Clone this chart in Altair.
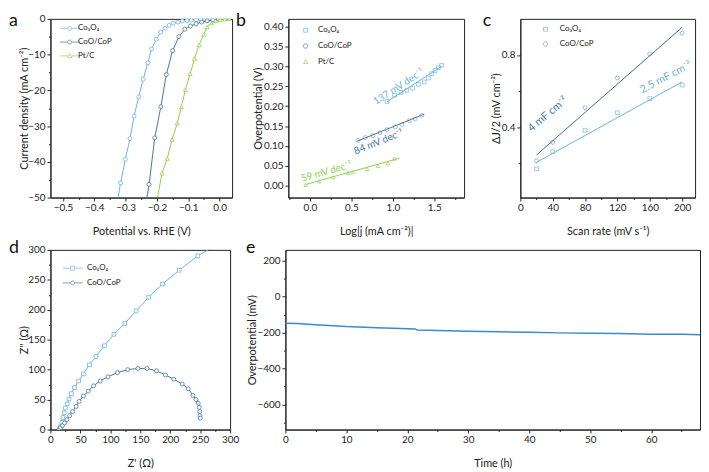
import altair as alt
import pandas as pd

FONT = "Lato"
C1 = "#6db3e2"   # Co3O4
C2 = "#4a76a0"   # CoO/CoP
C3 = "#8fd04c"   # Pt/C
CE = "#3a8bcd"

NAMES3 = ["Co₃O₄", "CoO/CoP", "Pt/C"]
NAMES2 = ["Co₃O₄", "CoO/CoP"]

# ---------------- panel a : polarization curves
a_co3o4_v = [-0.324, -0.316, -0.301, -0.286, -0.273, -0.258, -0.244, -0.229, -0.217, -0.202, -0.188,
             -0.174, -0.161, -0.148, -0.133, -0.119, -0.104, -0.090, -0.075, -0.060, -0.046, -0.031,
             -0.017, -0.002]
a_co3o4_j = [-50, -45.9, -39.3, -33.5, -27.2, -21.8, -16.9, -12.3, -8.4, -5.7, -3.7,
             -2.6, -1.8, -1.2, -0.9, -0.6, -0.5, -0.4, -0.3, -0.2, -0.15, -0.1, -0.05, 0.0]
a_cop_v = [-0.232, -0.225, -0.207, -0.1875, -0.170, -0.150, -0.130, -0.111, -0.093, -0.075,
           -0.057, -0.040, -0.021, -0.003]
a_cop_j = [-50, -46.3, -33.3, -24.6, -15.6, -8.9, -5.0, -2.9, -2.0, -1.4, -0.9, -0.55, -0.3, -0.05]
a_ptc_v = [-0.198, -0.184, -0.167, -0.152, -0.135, -0.122, -0.109, -0.094, -0.080, -0.065, -0.051,
           -0.040, -0.026, -0.0125, 0.002, 0.017, 0.031]
a_ptc_j = [-50, -43.2, -39.1, -33.8, -29.2, -24.6, -19.8, -15.4, -11.1, -7.3, -4.4,
           -2.3, -1.2, -0.55, -0.2, -0.1, 0.0]

# ---------------- panel b : Tafel
b_co3o4_x = [0.93, 1.02, 1.10, 1.17, 1.24, 1.31, 1.38, 1.43, 1.47, 1.51, 1.55, 1.59]
b_co3o4_y = [0.212, 0.228, 0.235, 0.240, 0.246, 0.255, 0.261, 0.271, 0.282, 0.290, 0.297, 0.303]
b_cop_x = [0.58, 0.67, 0.76, 0.845, 0.93, 1.03, 1.11, 1.20, 1.27, 1.35]
b_cop_y = [0.114, 0.121, 0.126, 0.133, 0.141, 0.148, 0.154, 0.164, 0.168, 0.177]
b_ptc_x = [-0.05, 0.11, 0.28, 0.46, 0.52, 0.69, 0.82, 0.94, 1.02]
b_ptc_y = [0.002, 0.011, 0.021, 0.032, 0.034, 0.042, 0.050, 0.056, 0.068]
b_fit_co3o4_x, b_fit_co3o4_y = [0.93, 1.59], [0.211, 0.301]
b_fit_cop_x, b_fit_cop_y = [0.57, 1.38], [0.112, 0.180]
b_fit_ptc_x, b_fit_ptc_y = [-0.05, 1.08], [0.003, 0.069]
b_note_text = ["137 mV dec⁻¹", "84 mV dec⁻¹", "59 mV dec⁻¹"]
b_note_x = [1.07, 0.83, 0.20]
b_note_y = [0.249, 0.110, 0.035]
b_note_angle = [327, 338, 344]
b_note_color = [C1, C2, C3]

# ---------------- panel c : double-layer capacitance
c_rate = [20, 40, 80, 120, 160, 200]
c_co3o4 = [0.169, 0.264, 0.383, 0.480, 0.558, 0.633]
c_cop = [0.214, 0.316, 0.508, 0.673, 0.806, 0.921]
c_fit_x = [20, 200]
c_fit_co3o4 = [0.205, 0.651]
c_fit_cop = [0.246, 0.953]
c_note_text = ["4 mF cm⁻²", "2.5 mF cm⁻²"]
c_note_x = [34, 180]
c_note_y = [0.47, 0.675]
c_note_angle = [320, 332]
c_note_color = [C2, C1]

# ---------------- panel d : Nyquist
d_co3o4_x = [15, 17, 19, 21, 23, 25, 28, 31, 35, 40, 47, 55, 65, 76, 90, 106, 124, 143, 164, 187, 215,
             246, 270]
d_co3o4_y = [0, 5, 12, 20, 28, 36, 43, 51, 60, 70, 81, 93, 108, 122, 140, 159, 177, 198, 221, 243, 266,
             290, 304]
d_cop_x = [14, 16.5, 20, 23.6, 27.5, 32, 37, 43, 48, 55, 63, 72, 83, 96, 112, 129, 146, 161, 177, 192,
           206, 220, 230, 238, 243, 246.7, 248.4, 249.2, 249.7, 250.2]
d_cop_y = [0, 3, 6.6, 11, 16.5, 23, 30, 38.5, 47, 56, 64, 73, 81, 88, 95, 100, 102, 102, 98, 91,
           84, 76, 68, 57, 50, 44, 37, 30, 23, 19]

# ---------------- panel e : stability
e_time = [0, 2, 5, 10, 15, 21.3, 21.6, 25, 30, 35, 40, 45, 50, 55, 60, 65, 68]
e_eta = [-148, -150, -157, -167, -173, -180, -186, -189, -193, -196, -199, -202, -204, -206, -209, -210, -212]

# legend symbol paths (unit = 5 px at symbolSize 100)
P_LINE_CIRCLE = "M-1,0L0.6,0M1.4,0L3,0M1.4,0A0.4,0.4,0,1,1,0.6,0A0.4,0.4,0,1,1,1.4,0"
P_LINE_TRI = "M-1,0L0.6,0M1.4,0L3,0M1,-0.45L1.45,0.35L0.55,0.35Z"
P_LINE_SQUARE = "M-1,0L0.6,0M1.4,0L3,0M0.6,-0.4L1.4,-0.4L1.4,0.4L0.6,0.4Z"
P_SQUARE = "M-0.4,-0.4L0.4,-0.4L0.4,0.4L-0.4,0.4Z"
P_CIRCLE = "M0.45,0A0.45,0.45,0,1,1,-0.45,0A0.45,0.45,0,1,1,0.45,0"
P_TRI = "M0,-0.45L0.45,0.35L-0.45,0.35Z"


def df(xs, ys):
    return pd.DataFrame({"x": xs, "y": ys, "i": list(range(len(xs)))})


def axis(title, majors, minors, step, fmt, title_pad, label_pad=2, **kw):
    test = f"abs(datum.value / {step} - round(datum.value / {step})) < 0.000001"
    return alt.Axis(title=title, values=sorted(majors + minors), format=fmt,
                    labelExpr=f"({test}) ? datum.label : ''",
                    tickSize={"condition": {"test": test, "value": 3.5}, "value": 2},
                    labelOverlap=False, labelFlush=False, grid=False,
                    titlePadding=title_pad, labelPadding=label_pad, **kw)


def xaxis(title, majors, minors, step, fmt):
    return axis(title, majors, minors, step, fmt, 13, 2)


def yaxis(title, majors, minors, step, fmt, tp=0):
    return axis(title, majors, minors, step, fmt, tp, 2)


def line_markers(d, X, Y, color, shape, size=16, sw=1.0, marker_filter=None):
    base = alt.Chart(d)
    ln = base.mark_line(color=color, strokeWidth=sw, clip=True).encode(x=X, y=Y, order="i:Q")
    pb = base
    if marker_filter:
        pb = pb.transform_filter(marker_filter)
    pts = pb.mark_point(shape=shape, size=size, filled=True, fill="white", stroke=color,
                        strokeWidth=0.8, opacity=1, clip=True).encode(x=X, y=Y)
    return [ln, pts]


def markers(d, X, Y, color, shape, size=16, opacity=0.85):
    return alt.Chart(d).mark_point(shape=shape, size=size, filled=False, color=color,
                                   strokeWidth=0.8, opacity=opacity, clip=True).encode(x=X, y=Y)


def fit(xs, ys, X, Y, color, sw=1.0):
    return alt.Chart(df(xs, ys)).mark_line(color=color, strokeWidth=sw, clip=True).encode(x=X, y=Y)


def notes(texts, xs, ys, angles, colors, X, Y, size=10):
    layers = []
    for t, x, y, a, c in zip(texts, xs, ys, angles, colors):
        layers.append(alt.Chart(pd.DataFrame({"x": [x], "y": [y], "t": [t]})).mark_text(
            angle=a, color=c, fontSize=size, font=FONT).encode(x=X, y=Y, text="t:N"))
    return layers


def legend(names, colors, paths, lx, ly, row_pad, label_offset, fsize=8):
    lg = alt.Legend(orient="none", legendX=lx, legendY=ly, title=None, labelFont=FONT,
                    labelFontSize=fsize, labelColor="#222", symbolSize=100, symbolStrokeWidth=1,
                    rowPadding=row_pad, labelOffset=label_offset, padding=0, symbolOffset=0)
    return alt.Chart(pd.DataFrame({"s": names})).transform_filter("false").mark_point(
        filled=False, strokeWidth=1).encode(
        color=alt.Color("s:N", scale=alt.Scale(domain=names, range=colors), legend=lg),
        shape=alt.Shape("s:N", scale=alt.Scale(domain=names, range=paths), legend=lg))


def letter(t, x, y):
    return alt.Chart(pd.DataFrame({"t": [t]})).mark_text(
        align="left", baseline="top", fontSize=18, font=FONT, color="#111").encode(
        x=alt.value(x), y=alt.value(y), text="t:N")


# ================= panel a
Xa = alt.X("x:Q", scale=alt.Scale(domain=[-0.54, 0.04], nice=False, zero=False),
           axis=xaxis("Potential vs. RHE (V)", [-0.5, -0.4, -0.3, -0.2, -0.1, 0.0],
                      [-0.45, -0.35, -0.25, -0.15, -0.05], 0.1, ".1f"))
Ya = alt.Y("y:Q", scale=alt.Scale(domain=[-50, 0], nice=False, zero=False),
           axis=yaxis("Current density (mA cm⁻²)", [-50, -40, -30, -20, -10, 0],
                      [-45, -35, -25, -15, -5], 10, "d", -2))
layers_a = []
layers_a += line_markers(df(a_co3o4_v, a_co3o4_j), Xa, Ya, C1, "circle", marker_filter="datum.y > -49")
layers_a += line_markers(df(a_cop_v, a_cop_j), Xa, Ya, C2, "circle", marker_filter="datum.y > -49")
layers_a += line_markers(df(a_ptc_v, a_ptc_j), Xa, Ya, C3, "triangle-up", marker_filter="datum.y > -49")
layers_a.append(legend(NAMES3, [C1, C2, C3], [P_LINE_CIRCLE, P_LINE_CIRCLE, P_LINE_TRI], 9, 4, 4, 8))
layers_a.append(letter("a", -42, -7))
panel_a = alt.layer(*layers_a).properties(width=184, height=181)

# ================= panel b
Xb = alt.X("x:Q", scale=alt.Scale(domain=[-0.26, 1.86], nice=False, zero=False),
           axis=xaxis("Log|j (mA cm⁻²)|", [0.0, 0.5, 1.0, 1.5], [-0.25, 0.25, 0.75, 1.25, 1.75], 0.5, ".1f"))
Yb = alt.Y("y:Q", scale=alt.Scale(domain=[-0.03, 0.42], nice=False, zero=False),
           axis=yaxis("Overpotential (V)", [0.0, 0.05, 0.10, 0.15, 0.20, 0.25, 0.30, 0.35, 0.40], [],
                      0.05, ".2f", 0))
layers_b = [
    markers(df(b_co3o4_x, b_co3o4_y), Xb, Yb, C1, "square", 14),
    markers(df(b_cop_x, b_cop_y), Xb, Yb, C2, "circle", 16, 0.6),
    markers(df(b_ptc_x, b_ptc_y), Xb, Yb, C3, "triangle-up", 14),
    fit(b_fit_co3o4_x, b_fit_co3o4_y, Xb, Yb, C1),
    fit(b_fit_cop_x, b_fit_cop_y, Xb, Yb, C2),
    fit(b_fit_ptc_x, b_fit_ptc_y, Xb, Yb, C3),
]
layers_b += notes(b_note_text, b_note_x, b_note_y, b_note_angle, b_note_color, Xb, Yb, 10)
layers_b.append(legend(NAMES3, [C1, C2, C3], [P_SQUARE, P_CIRCLE, P_TRI], 12, 6, 6, 7))
layers_b.append(letter("b", -53, -7))
panel_b = alt.layer(*layers_b).properties(width=178, height=181)

# ================= panel c
Xc = alt.X("x:Q", scale=alt.Scale(domain=[0, 216], nice=False, zero=False),
           axis=xaxis("Scan rate (mV s⁻¹)", [0, 40, 80, 120, 160, 200], [20, 60, 100, 140, 180], 40, "d"))
Yc = alt.Y("y:Q", scale=alt.Scale(domain=[0.01, 1.0], nice=False, zero=False),
           axis=yaxis("ΔJ/2 (mV cm⁻²)", [0.4, 0.8], [0.2, 0.6], 0.4, ".1f", 0))
layers_c = [
    markers(df(c_rate, c_co3o4), Xc, Yc, C1, "square", 14),
    markers(df(c_rate, c_cop), Xc, Yc, "#7d96b2", "circle", 16),
    fit(c_fit_x, c_fit_co3o4, Xc, Yc, C1),
    fit(c_fit_x, c_fit_cop, Xc, Yc, "#3e6890"),
]
layers_c += notes(c_note_text, c_note_x, c_note_y, c_note_angle, c_note_color, Xc, Yc, 11)
layers_c.append(legend(NAMES2, [C1, "#7d96b2"], [P_SQUARE, P_CIRCLE], 20, 5, 5, 9))
layers_c.append(letter("c", -38, -7))
panel_c = alt.layer(*layers_c).properties(width=177, height=181)

# ================= panel d
Xd = alt.X("x:Q", scale=alt.Scale(domain=[0, 300], nice=False, zero=False),
           axis=xaxis("Z' (Ω)", [0, 50, 100, 150, 200, 250, 300], [25, 75, 125, 175, 225, 275], 50, "d"))
Yd = alt.Y("y:Q", scale=alt.Scale(domain=[0, 300], nice=False, zero=False),
           axis=yaxis("Z'' (Ω)", [0, 50, 100, 150, 200, 250, 300], [25, 75, 125, 175, 225, 275], 50, "d", -2))
layers_d = []
layers_d += line_markers(df(d_co3o4_x, d_co3o4_y), Xd, Yd, C1, "square", 14)
layers_d += line_markers(df(d_cop_x, d_cop_y), Xd, Yd, C2, "circle", 16)
layers_d.append(legend(NAMES2, [C1, C2], [P_LINE_SQUARE, P_LINE_CIRCLE], 12, 13, 5, 14))
layers_d.append(letter("d", -42, -11))
panel_d = alt.layer(*layers_d).properties(width=182, height=182)

# ================= panel e
Xe = alt.X("x:Q", scale=alt.Scale(domain=[0, 68], nice=False, zero=False),
           axis=xaxis("Time (h)", [0, 10, 20, 30, 40, 50, 60], [5, 15, 25, 35, 45, 55, 65], 10, "d"))
Ye = alt.Y("y:Q", scale=alt.Scale(domain=[-740, 260], nice=False, zero=False),
           axis=yaxis("Overpotential (mV)", [-600, -400, -200, 0, 200], [-700, -500, -300, -100, 100],
                      200, "d", 0))
layers_e = [
    alt.Chart(df(e_time, e_eta)).mark_line(color=CE, strokeWidth=1.5, clip=True).encode(
        x=Xe, y=Ye, order="i:Q"),
    letter("e", -40, -11),
]
panel_e = alt.layer(*layers_e).properties(width=420, height=182)

top = alt.hconcat(panel_a, panel_b, panel_c, spacing=57, bounds="flush").resolve_scale(
    color="independent", shape="independent")
bottom = alt.hconcat(panel_d, panel_e, spacing=56, bounds="flush").resolve_scale(
    color="independent", shape="independent")

chart = alt.vconcat(top, bottom, spacing=1).resolve_scale(
    color="independent", shape="independent"
).properties(padding=0).configure_view(
    stroke="#222", strokeWidth=1
).configure_axis(
    labelFont=FONT, titleFont=FONT, labelFontSize=10, titleFontSize=11, labelColor="#222",
    titleColor="#222", titleFontWeight="normal", domainColor="#222", tickColor="#222",
    domainWidth=1, tickWidth=1
).configure_text(font=FONT)

chart.save("out.html", embed_options={"renderer": "svg", "actions": False})
